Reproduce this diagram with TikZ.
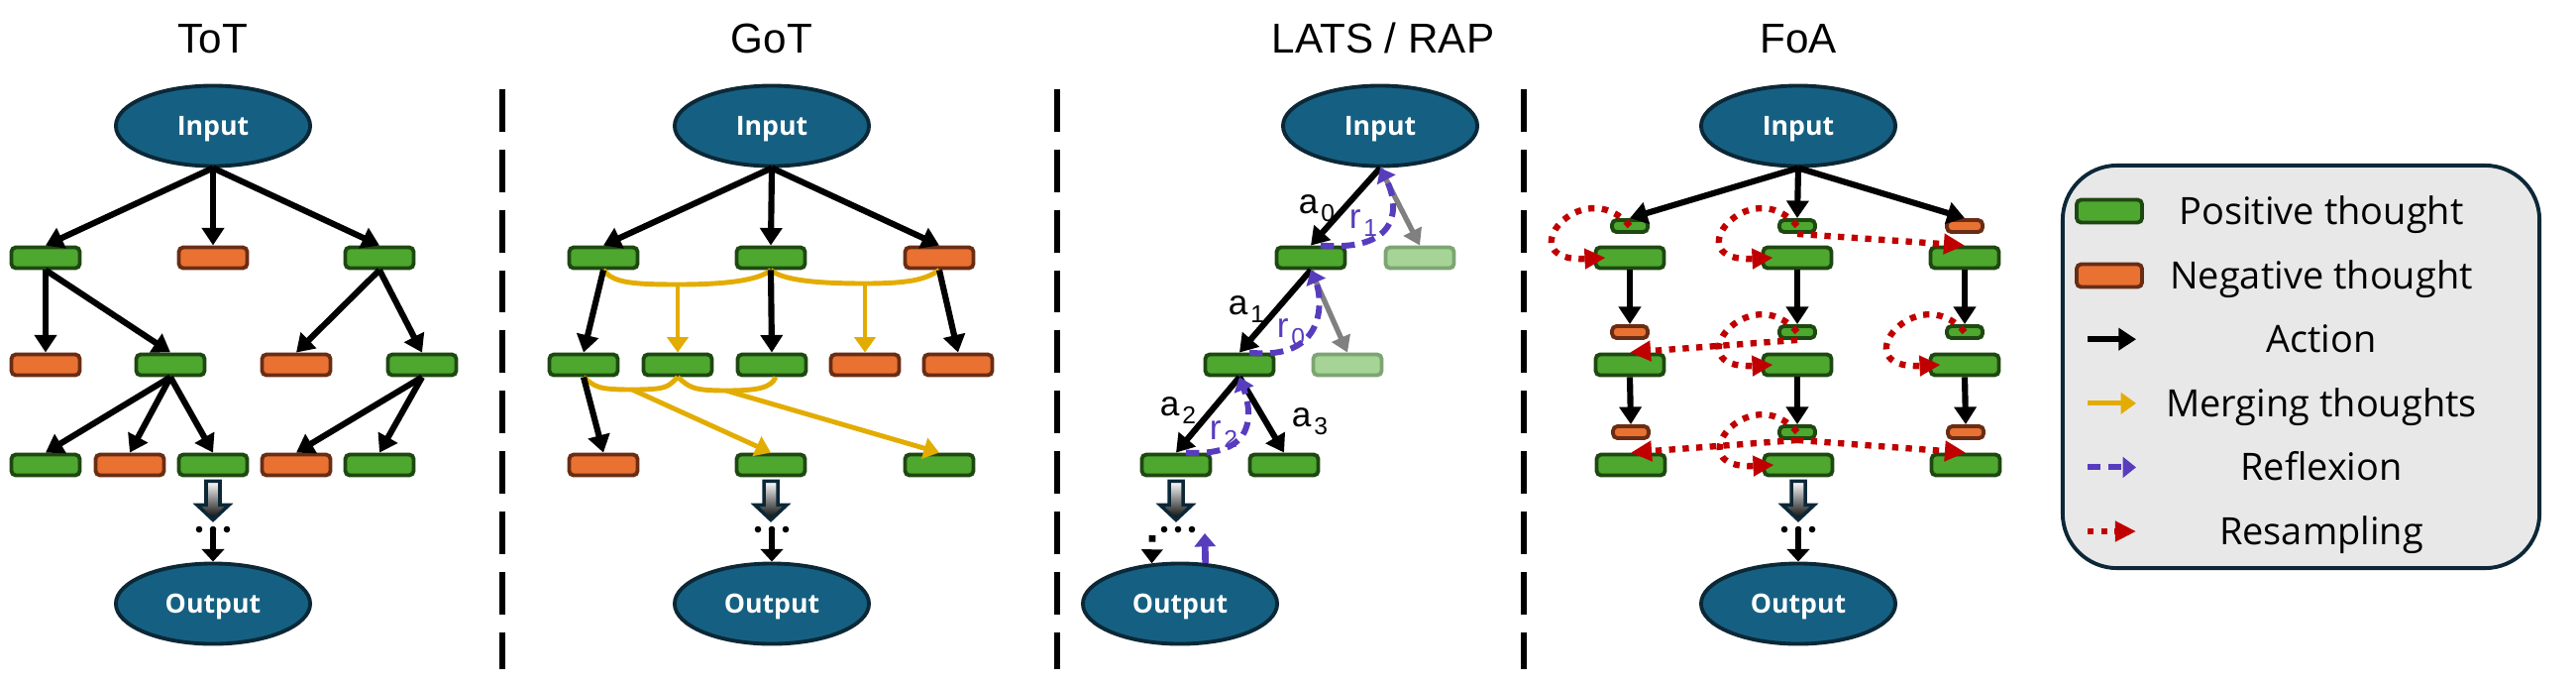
\documentclass[tikz,border=0pt]{standalone}
\usepackage{fontspec}
\setmainfont{Liberation Sans}
\newfontfamily\osans{Open Sans}
\usetikzlibrary{arrows.meta,shapes.geometric,calc}

\definecolor{iofill}{RGB}{21,96,130}
\definecolor{ioline}{RGB}{12,40,55}
\definecolor{posfill}{RGB}{78,167,46}
\definecolor{posline}{RGB}{30,72,18}
\definecolor{negfill}{RGB}{233,113,50}
\definecolor{negline}{RGB}{105,45,20}
\definecolor{fadefill}{RGB}{166,211,150}
\definecolor{fadeline}{RGB}{125,165,115}
\definecolor{mergecol}{RGB}{227,172,0}
\definecolor{reflcol}{RGB}{88,60,190}
\definecolor{resampcol}{RGB}{192,0,0}
\definecolor{triedgray}{RGB}{128,128,128}
\definecolor{legfill}{RGB}{232,232,232}

\newcommand{\iofont}{\osans\bfseries\fontsize{7.6}{9}\selectfont}
\newcommand{\ttlfont}{\fontsize{12}{14}\selectfont}
\newcommand{\lblfont}{\fontsize{10}{12}\selectfont}
\newcommand{\legfont}{\osans\fontsize{10.8}{13}\selectfont}
\newcommand{\idx}[2]{#1\kern0.8pt\raisebox{-2.2pt}{\fontsize{7}{8}\selectfont #2}}

% thick shaded arrow under the last thought
\newcommand{\flowdown}[1]{%
  \shade[top color=white, bottom color=black, draw=ioline, line width=1pt]
    ($(#1)+(-7,4)$) -- ++(14,0) -- ++(0,24) -- ++(9,0) -- ++(-16,15)
    -- ++(-16,-15) -- ++(9,0) -- cycle;}
% three dots
\newcommand{\moredots}[1]{%
  \foreach \dx in {-14,0,14} {\fill ($(#1)+(\dx,0)$) circle (3.3);}}

\tikzset{
  ionode/.style={ellipse, draw=ioline, fill=iofill, line width=1.1pt,
    minimum width=1.96cm, minimum height=0.81cm, inner sep=0pt,
    text=white, font=\iofont, text height=5.4pt, text depth=0pt},
  posth/.style={rectangle, rounded corners=1.3pt, draw=posline, fill=posfill,
    line width=1.1pt, minimum width=0.69cm, minimum height=0.21cm, inner sep=0pt},
  negth/.style={posth, draw=negline, fill=negfill},
  fadeth/.style={posth, draw=fadeline, fill=fadefill},
  sposth/.style={posth, minimum width=0.36cm, minimum height=0.12cm},
  snegth/.style={negth, minimum width=0.36cm, minimum height=0.12cm},
  act/.style={draw=black, line width=1.75pt, -{Triangle[length=5pt,width=6.2pt]}},
  tried/.style={draw=triedgray, line width=1.5pt, -{Triangle[length=4.6pt,width=5.6pt]}},
  mergeline/.style={draw=mergecol, line width=1.4pt},
  merge/.style={mergeline, -{Triangle[length=4.4pt,width=6pt]}},
  refl/.style={draw=reflcol, line width=1.7pt, dash pattern=on 3.8pt off 2.2pt,
    -{Triangle[length=3.8pt,width=5.8pt]}},
  reflup/.style={draw=reflcol, line width=1.9pt, -{Triangle[length=3.8pt,width=6pt]}},
  resamp/.style={draw=resampcol, line width=1.8pt, dash pattern=on 1.8pt off 2.1pt,
    -{Triangle[length=6pt,width=5.6pt]}},
  endarrow/.style={draw=black, line width=1.7pt, -{Triangle[length=3.6pt,width=6.4pt]}},
  dashact/.style={draw=black, line width=1.9pt, dash pattern=on 1.9pt off 4pt,
    -{Triangle[length=4pt,width=6pt]}},
  divider/.style={line width=1.5pt, dash pattern=on 12.2pt off 5.1pt},
  ttl/.style={font=\ttlfont, anchor=base, inner sep=0pt},
  lbl/.style={font=\lblfont, inner sep=0pt},
  legbox/.style={draw=ioline, fill=legfill, line width=1.1pt, rounded corners=0.55cm,
    minimum width=4.81cm, minimum height=4.06cm},
  legtxt/.style={font=\legfont, anchor=base, inner sep=0pt},
}

\begin{document}
\begin{tikzpicture}[x=0.01cm, y=-0.01cm]
    \useasboundingbox (0,0) rectangle (2600,690);

    % Titles
    \node[ttl] (ttot) at (215,53) {ToT};
    \node[ttl] (tgot) at (779,53) {GoT};
    \node[ttl] (tlats) at (1396,53) {LATS / RAP};
    \node[ttl] (tfoa) at (1815,53) {FoA};

    % Dividers
    \foreach \x in {507,1067,1538} {
        \draw[divider] (\x,90) -- (\x,675);
    }

    % ToT
    \node[ionode] (tin) at (215,127) {Input};
    \node[posth] (t1a) at (46,260) {};
    \node[negth] (t1b) at (215,260) {};
    \node[posth] (t1c) at (383,260) {};
    \node[negth] (t2a) at (46,368) {};
    \node[posth] (t2b) at (172,368) {};
    \node[negth] (t2c) at (299,368) {};
    \node[posth] (t2d) at (426,368) {};
    \node[posth] (t3a) at (46,469) {};
    \node[negth] (t3b) at (131,469) {};
    \node[posth] (t3c) at (215,469) {};
    \node[negth] (t3d) at (299,469) {};
    \node[posth] (t3e) at (383,469) {};
    \node[ionode] (tout) at (215,609) {Output};
    \foreach \a/\b in {tin/t1a, tin/t1b, tin/t1c, t1a/t2a, t1a/t2b, t1c/t2c, t1c/t2d,
        t2b/t3a, t2b/t3b, t2b/t3c, t2d/t3d, t2d/t3e} {
        \draw[act] (\a.south) -- (\b.north);
    }
    \flowdown{t3c.south}
    \coordinate (tdots) at (215,534);
    \moredots{tdots}
    \draw[endarrow] (tdots) -- (tout.north);

    % GoT
    \node[ionode] (gin) at (779,127) {Input};
    \node[posth] (g1a) at (609,260) {};
    \node[posth] (g1b) at (778,260) {};
    \node[negth] (g1c) at (948,260) {};
    \node[posth] (g2a) at (589,368) {};
    \node[posth] (g2b) at (684,368) {};
    \node[posth] (g2c) at (779,368) {};
    \node[negth] (g2d) at (873,368) {};
    \node[negth] (g2e) at (967,368) {};
    \node[negth] (g3a) at (609,469) {};
    \node[posth] (g3b) at (778,469) {};
    \node[posth] (g3c) at (948,469) {};
    \node[ionode] (gout) at (779,609) {Output};
    \coordinate (gm1) at (684,287);
    \coordinate (gm2) at (873,286);
    \coordinate (gm3) at (638,393);
    \coordinate (gm4) at (733,394);
    \draw[mergeline] (g1a.south) .. controls +(10,12) and +(-50,0) .. (gm1)
        .. controls +(50,0) and +(-12,10) .. (g1b.south);
    \draw[mergeline] (g1b.south) .. controls +(12,10) and +(-50,0) .. (gm2)
        .. controls +(50,0) and +(-12,8) .. (g1c.south);
    \draw[mergeline] (g2a.south) .. controls +(12,10) and +(-35,0) .. (gm3)
        .. controls +(35,0) and +(-10,10) .. (g2b.south);
    \draw[mergeline] (g2b.south) .. controls +(12,10) and +(-35,0) .. (gm4)
        .. controls +(35,0) and +(-5,10) .. ([xshift=0.04cm]g2c.south);
    \draw[merge] (gm1) -- (g2b.north);
    \draw[merge] (gm2) -- (g2d.north);
    \draw[merge] (gm3) -- (g3b.north);
    \draw[merge] (gm4) -- (g3c.north);
    \foreach \a/\b in {gin/g1a, gin/g1b, gin/g1c, g1a/g2a, g1b/g2c, g1c/g2e, g2a/g3a} {
        \draw[act] (\a.south) -- (\b.north);
    }
    \flowdown{g3b.south}
    \coordinate (gdots) at (779,534);
    \moredots{gdots}
    \draw[endarrow] (gdots) -- (gout.north);

    % LATS / RAP
    \node[ionode] (lin) at (1393,127) {Input};
    \node[posth] (la) at (1323,260) {};
    \node[fadeth] (lb) at (1433,260) {};
    \node[posth] (lc) at (1251,368) {};
    \node[fadeth] (ld) at (1360,368) {};
    \node[posth] (le) at (1187,469) {};
    \node[posth] (lf) at (1296,469) {};
    \node[ionode] (lout) at (1191,609) {Output};
    \draw[tried] (lin.south) -- (lb.north);
    \draw[tried] (la.south) -- (ld.north);
    \draw[act] (lin.south) -- (la.north);
    \draw[act] (la.south) -- (lc.north);
    \draw[act] (lc.south) -- (le.north);
    \draw[act] (lc.south) -- (lf.north);
    \draw[refl] ([xshift=0.1cm]la.north) .. controls +(87,7) and +(17,32) .. (lin.south);
    \draw[refl] ([xshift=0.1cm]lc.north) .. controls +(79,9) and +(12,28) .. (la.south);
    \draw[refl] ([xshift=0.1cm]le.north) .. controls +(76,5) and +(11,30) .. (lc.south);
    \node[lbl] (a0) at (1329,210) {\idx{a}{0}};
    \node[lbl] (a1) at (1258,312) {\idx{a}{1}};
    \node[lbl] (a2) at (1189,414) {\idx{a}{2}};
    \node[lbl] (a3) at (1322,425) {\idx{a}{3}};
    \node[lbl, text=reflcol] (r1) at (1376,225) {\idx{r}{1}};
    \node[lbl, text=reflcol] (r0) at (1303,335) {\idx{r}{0}};
    \node[lbl, text=reflcol] (r2) at (1235,438) {\idx{r}{2}};
    \flowdown{le.south}
    \coordinate (ldots) at (1189,534);
    \moredots{ldots}
    \coordinate (ldash) at (1163,540);
    \coordinate (lrefl) at (1216,538);
    \draw[dashact] (ldash) -- (lout.125);
    \draw[reflup] (lout.58) -- (lrefl);

    % FoA
    \node[ionode] (fin) at (1815,127) {Input};
    \node[sposth] (s1a) at (1645,228) {};
    \node[sposth] (s1b) at (1814,228) {};
    \node[snegth] (s1c) at (1983,228) {};
    \node[posth] (b1a) at (1645,260) {};
    \node[posth] (b1b) at (1814,260) {};
    \node[posth] (b1c) at (1983,260) {};
    \node[snegth] (s2a) at (1645,335) {};
    \node[sposth] (s2b) at (1814,335) {};
    \node[sposth] (s2c) at (1983,335) {};
    \node[posth] (b2a) at (1645,368) {};
    \node[posth] (b2b) at (1814,368) {};
    \node[posth] (b2c) at (1983,368) {};
    \node[snegth] (s3a) at (1646,436) {};
    \node[sposth] (s3b) at (1814,436) {};
    \node[snegth] (s3c) at (1984,436) {};
    \node[posth] (b3a) at (1646,469) {};
    \node[posth] (b3b) at (1815,469) {};
    \node[posth] (b3c) at (1984,469) {};
    \node[ionode] (fout) at (1815,609) {Output};
    \foreach \a/\b in {fin/s1a, fin/s1b, fin/s1c, b1a/s2a, b1b/s2b, b1c/s2c,
        b2a/s3a, b2b/s3b, b2c/s3c} {
        \draw[act] (\a.south) -- (\b.north);
    }
    \foreach \s/\b in {s1a/b1a, s1b/b1b, s2b/b2b, s2c/b2c, s3b/b3b} {
        \draw[resamp] (\s.center) .. controls +(-48,-56) and +(-100,5) .. ([xshift=0.12cm]\b.west);
    }
    \draw[resamp] (s1b.south) -- (b1c.north);
    \draw[resamp] (s2b.south) -- (b2a.north);
    \draw[resamp] (s3b.south) -- (b3a.north);
    \draw[resamp] (s3b.south) -- (b3c.north);
    \flowdown{b3b.south}
    \coordinate (fdots) at (1815,534);
    \moredots{fdots}
    \draw[endarrow] (fdots) -- (fout.north);

    % Legend
    \node[legbox] (legend) at (2322.5,370) {};
    \node[posth, minimum width=0.66cm, minimum height=0.23cm] (lgpos) at (2129,213) {};
    \node[negth, minimum width=0.66cm, minimum height=0.23cm] (lgneg) at (2129,278) {};
    \foreach \i/\sty in {3/act, 4/merge, 5/refl, 6/resamp} {
        \coordinate (ls\i) at (2107,{213+64.6*(\i-1)});
        \coordinate (le\i) at (2156,{213+64.6*(\i-1)});
        \draw[\sty] (ls\i) -- (le\i);
    }
    \foreach \t [count=\i] in {Positive thought, Negative thought, Action,
        Merging thoughts, Reflexion, Resampling} {
        \node[legtxt] (leg\i) at (2343,{226.5+64.6*(\i-1)}) {\t};
    }
\end{tikzpicture}
\end{document}
